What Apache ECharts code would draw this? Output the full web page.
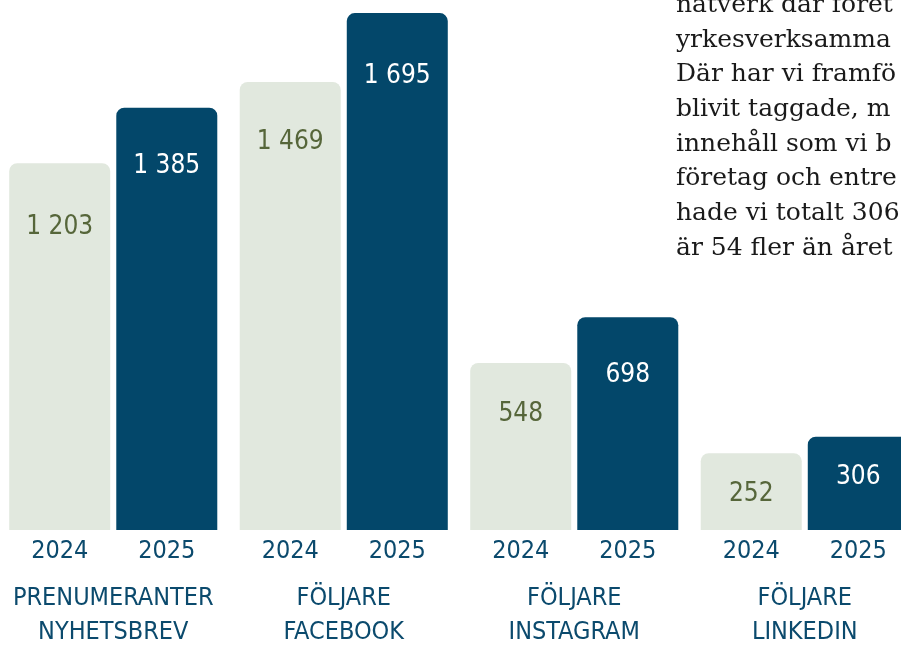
<!DOCTYPE html>
<html>
<head>
<meta charset="utf-8">
<script src="https://cdn.jsdelivr.net/npm/echarts@6/dist/echarts.min.js"></script>
<style>
  html, body { margin: 0; padding: 0; background: #fff; }
  #myChart { width: 901px; height: 646px; }
</style>
</head>
<body>
<div id="myChart"></div>
<script>
  const categories = [
    ['PRENUMERANTER', 'NYHETSBREV'],
    ['FÖLJARE', 'FACEBOOK'],
    ['FÖLJARE', 'INSTAGRAM'],
    ['FÖLJARE', 'LINKEDIN']
  ];
  const years = ['2024', '2025'];
  const values2024 = [1203, 1469, 548, 252];
  const values2025 = [1385, 1695, 698, 306];
  const paragraph = [
    'nätverk där föret',
    'yrkesverksamma',
    'Där har vi framfö',
    'blivit taggade, m',
    'innehåll som vi b',
    'företag och entre',
    'hade vi totalt 306',
    'är 54 fler än året'
  ];

  // label centre below bar top, per bar
  const labelDy2024 = [64, 60, 51, 41];
  const labelDy2025 = [59, 63, 58, 41];

  const narrow = '"Liberation Sans Narrow", "DejaVu Sans Condensed", "Roboto", sans-serif';
  const blue = '#03476a';
  const light = '#e1e8de';

  function fmt(v) {
    return String(v).replace(/\B(?=(\d{3})+(?!\d))/g, ' ');
  }

  function buildData(values, dys) {
    return values.map(function (v, i) {
      return { value: v, label: { position: ['50%', dys[i]] } };
    });
  }

  let myChart = echarts.init(document.getElementById('myChart'));

  myChart.setOption({
    animation: false,
    grid: {
      left: -2,
      right: -19,
      top: 0,
      bottom: 116,
      containLabel: false,
      outerBoundsMode: 'none'
    },
    xAxis: {
      type: 'category',
      data: categories.map(function (c) { return c.join('\n'); }),
      axisLine: { show: false },
      axisTick: { show: false },
      axisLabel: {
        margin: -9,
        interval: 0,
        formatter: function (value) {
          const lines = value.split('\n');
          return '{y|' + years[0] + '}{g|}{y|' + years[1] + '}\n' +
            lines.map(function (l) { return '{c|' + l + '}'; }).join('\n');
        },
        rich: {
          y: {
            width: 101, align: 'center', lineHeight: 60,
            fontFamily: narrow, fontSize: 25, color: '#0b4a6d'
          },
          g: { width: 6, lineHeight: 60 },
          c: {
            align: 'center', lineHeight: 34,
            fontFamily: narrow, fontSize: 25, color: '#0b4a6d'
          }
        }
      }
    },
    yAxis: {
      type: 'value',
      min: 0,
      max: 1738,
      show: false
    },
    series: [
      {
        type: 'bar',
        name: years[0],
        barWidth: 101,
        barGap: '6%',
        itemStyle: { color: light, borderRadius: [8, 8, 0, 0] },
        label: {
          show: true,
          align: 'center',
          verticalAlign: 'middle',
          fontFamily: narrow,
          fontSize: 26,
          color: '#56663a',
          formatter: function (p) { return fmt(p.value); }
        },
        data: buildData(values2024, labelDy2024)
      },
      {
        type: 'bar',
        name: years[1],
        barWidth: 101,
        barGap: '6%',
        itemStyle: { color: blue, borderRadius: [8, 8, 0, 0] },
        label: {
          show: true,
          align: 'center',
          verticalAlign: 'middle',
          fontFamily: narrow,
          fontSize: 26,
          color: '#ffffff',
          formatter: function (p) { return fmt(p.value); }
        },
        data: buildData(values2025, labelDy2025)
      }
    ],
    graphic: [
      {
        type: 'text',
        left: 676,
        top: -12,
        style: {
          text: paragraph.join('\n'),
          fontFamily: '"DejaVu Serif", serif',
          fontSize: 25,
          lineHeight: 34.7,
          fill: '#1a1a1a'
        }
      }
    ]
  });
</script>
</body>
</html>
